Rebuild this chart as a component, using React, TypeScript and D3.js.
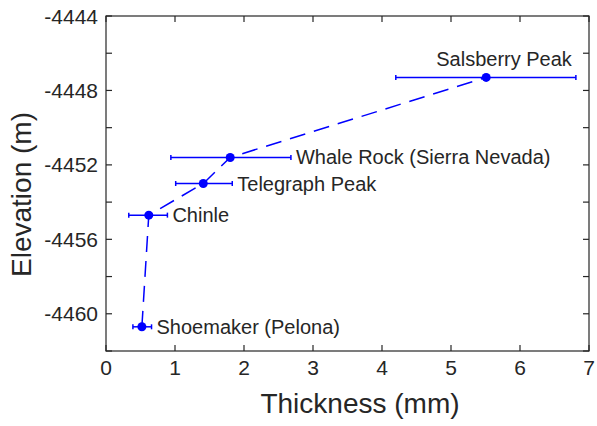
import { useEffect, useRef } from "react";
import * as d3 from "d3";

// sites ordered by elevation (dashed line follows this order)
const sites = ["Shoemaker (Pelona)", "Chinle", "Telegraph Peak", "Whale Rock (Sierra Nevada)", "Salsberry Peak"];
const thickness = [0.52, 0.62, 1.41, 1.8, 5.51];
const thicknessLow = [0.39, 0.33, 1.01, 0.94, 4.2];
const thicknessHigh = [0.66, 0.89, 1.83, 2.68, 6.81];
const elevation = [-4460.7, -4454.7, -4453.0, -4451.6, -4447.3];
const labelSide = ["right", "right", "right", "right", "above"];

const xTicks = [0, 1, 2, 3, 4, 5, 6, 7];
const yTicksMajor = [-4460, -4456, -4452, -4448, -4444];
const yTicksMinor = [-4462, -4460, -4458, -4456, -4454, -4452, -4450, -4448, -4446, -4444];

const W = 597;
const H = 426;
const FONT = "'Liberation Sans', Arial, Helvetica, sans-serif";
const BLUE = "#0000ff";
const AXIS = "#262626";

const App = () => {
    const svgRef = useRef(null);

    useEffect(() => {
        const svg = d3.select(svgRef.current);
        svg.selectAll("*").remove();

        const margin = { top: 16, right: 8, bottom: 75, left: 106 };
        const x = d3.scaleLinear().domain([0, 7]).range([margin.left, W - margin.right]);
        const y = d3.scaleLinear().domain([-4462, -4444]).range([H - margin.bottom, margin.top]);
        const [x0, x1] = x.range();
        const [y0, y1] = y.range();

        const rows = sites.map((s, i) => ({
            name: s,
            t: thickness[i],
            lo: thicknessLow[i],
            hi: thicknessHigh[i],
            e: elevation[i],
            side: labelSide[i],
        }));

        const tickLen = 6;

        // 축 박스
        svg.append("rect")
            .attr("x", x0).attr("y", y1)
            .attr("width", x1 - x0).attr("height", y0 - y1)
            .attr("fill", "none").attr("stroke", AXIS).attr("stroke-width", 1.2);

        // x 눈금 (아래/위, 안쪽)
        xTicks.forEach((v) => {
            svg.append("line").attr("x1", x(v)).attr("x2", x(v)).attr("y1", y0).attr("y2", y0 - tickLen)
                .attr("stroke", AXIS).attr("stroke-width", 1.2);
            svg.append("line").attr("x1", x(v)).attr("x2", x(v)).attr("y1", y1).attr("y2", y1 + tickLen)
                .attr("stroke", AXIS).attr("stroke-width", 1.2);
            svg.append("text")
                .attr("x", x(v)).attr("y", y0 + 24)
                .attr("text-anchor", "middle")
                .style("font-family", FONT).style("font-size", "21px").attr("fill", AXIS)
                .text(v);
        });

        // y 눈금
        yTicksMinor.forEach((v) => {
            svg.append("line").attr("x1", x0).attr("x2", x0 + tickLen).attr("y1", y(v)).attr("y2", y(v))
                .attr("stroke", AXIS).attr("stroke-width", 1.2);
            svg.append("line").attr("x1", x1).attr("x2", x1 - tickLen).attr("y1", y(v)).attr("y2", y(v))
                .attr("stroke", AXIS).attr("stroke-width", 1.2);
        });
        yTicksMajor.forEach((v) => {
            svg.append("text")
                .attr("x", x0 - 8).attr("y", y(v))
                .attr("text-anchor", "end").attr("dominant-baseline", "central")
                .style("font-family", FONT).style("font-size", "21px").attr("fill", AXIS)
                .text(v);
        });

        // 축 제목
        svg.append("text")
            .attr("x", 360).attr("y", 413)
            .attr("text-anchor", "middle")
            .style("font-family", FONT).style("font-size", "28px").attr("fill", AXIS)
            .text("Thickness (mm)");
        svg.append("text")
            .attr("transform", `translate(31,${(y0 + y1) / 2 + 11}) rotate(-90)`)
            .attr("text-anchor", "middle")
            .style("font-family", FONT).style("font-size", "28px").attr("fill", AXIS)
            .text("Elevation (m)");

        // 점선 연결
        const line = d3.line().x((d) => x(d.t)).y((d) => y(d.e));
        svg.append("path")
            .datum(rows)
            .attr("d", line)
            .attr("fill", "none").attr("stroke", BLUE).attr("stroke-width", 1.5)
            .attr("stroke-dasharray", "16,9");

        // 오차 막대
        const g = svg.append("g").selectAll("g").data(rows).enter().append("g");
        g.append("line")
            .attr("x1", (d) => x(d.lo)).attr("x2", (d) => x(d.hi))
            .attr("y1", (d) => y(d.e)).attr("y2", (d) => y(d.e))
            .attr("stroke", BLUE).attr("stroke-width", 1.5);
        g.append("line")
            .attr("x1", (d) => x(d.lo)).attr("x2", (d) => x(d.lo))
            .attr("y1", (d) => y(d.e) - 2.5).attr("y2", (d) => y(d.e) + 2.5)
            .attr("stroke", BLUE).attr("stroke-width", 1.5);
        g.append("line")
            .attr("x1", (d) => x(d.hi)).attr("x2", (d) => x(d.hi))
            .attr("y1", (d) => y(d.e) - 2.5).attr("y2", (d) => y(d.e) + 2.5)
            .attr("stroke", BLUE).attr("stroke-width", 1.5);
        g.append("circle")
            .attr("cx", (d) => x(d.t)).attr("cy", (d) => y(d.e))
            .attr("r", 4.5).attr("fill", BLUE);

        // 라벨
        g.append("text")
            .attr("x", (d) => (d.side === "above" ? x(d.hi) - 4 : x(d.hi) + 5))
            .attr("y", (d) => (d.side === "above" ? y(d.e) - 18 : y(d.e)))
            .attr("text-anchor", (d) => (d.side === "above" ? "end" : "start"))
            .attr("dominant-baseline", "central")
            .style("font-family", FONT).style("font-size", "20px").attr("fill", AXIS)
            .text((d) => d.name);
    }, []);

    return (
        <svg ref={svgRef} width={W} height={H}
            style={{ position: "absolute", left: 0, top: 0, background: "#fff" }}></svg>
    );
};

export default App;
